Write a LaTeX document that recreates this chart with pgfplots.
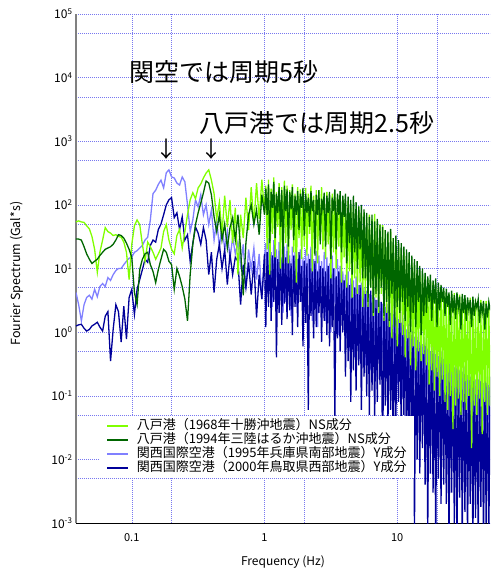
\documentclass[border=0pt]{standalone}
\usepackage{fontspec}
\setmainfont{Noto Sans CJK JP}
\usepackage{pgfplots}
\pgfplotsset{compat=1.18}
\usepackage{pgfplotstable}
\definecolor{lgc}{RGB}{128,255,0}
\definecolor{dgc}{RGB}{0,102,0}
\definecolor{lbc}{RGB}{128,128,255}
\definecolor{dbc}{RGB}{0,0,153}
\definecolor{gridc}{RGB}{120,120,240}
\pgfplotstableread{
f lg dg lb db
0.0380 54 29 4.2 1.25
0.0398 56 29 2.7 1.3
0.0417 54 28 1.5 1.33
0.0437 53 22 2.7 1.15
0.0457 47 17 3.5 1.04
0.0479 42 14 3.8 1.1
0.0501 32 12 3.3 1.25
0.0525 20 13 4.7 1.33
0.0550 8.7 14 3.6 1.43
0.0575 18 16 5.2 1.2
0.0603 28 18 5.8 1.04
0.0631 44 20 5.2 1.78
0.0661 38 21 7.2 2.1
0.0692 36 22 6.5 0.35
0.0724 33 24 8 1.1
0.0759 34 28 9.3 2.7
0.0794 32 34 10 2.1
0.0832 31 33 10 0.7
0.0871 26 30 11.5 2.55
0.0912 18 25 13 0.78
0.0955 6.7 20 14.5 3.5
0.1000 24 15 15 4.7
0.1047 47 4.2 18 1.9
0.1096 58 2.7 19 4.7
0.1148 49 9.6 21 6.7
0.1202 24 14 23 9.6
0.1259 13 17 28 14
0.1318 26 18 31 12.5
0.1380 22 11.5 58 23
0.1445 18 9 150 28
0.1514 14 6 170 26
0.1585 17 9.6 210 41
0.1660 21 14 245 50
0.1738 38 20 185 70
0.1820 49 18 320 100
0.1905 28 13 355 120
0.1995 20 11.5 275 130
0.2089 17 4.7 265 63
0.2188 33 10 220 75
0.2291 41 7.5 205 41
0.2399 21 5.2 275 65
0.2512 38 3.3 230 28
0.2630 70 1.5 100 34
0.2754 120 8 38 13
0.2884 155 24 58 25
0.3020 125 49 120 45
0.3162 185 75 93 36
0.3311 213 107 144 24
0.3467 265 155 70 44
0.3631 316 237 100 28
0.3802 355 220 49 8
0.3981 245 144 83 18
0.4169 150 65 28 4.2
0.4365 60 38 58 14
0.4571 110 70 21 24
0.4786 35 28 49 10
0.5012 140 50 20 20
0.5248 45 21 38 5.6
0.5495 120 44 14 17
0.5754 25 63 31 8
0.6026 90 28 17 15
0.6310 8 70 26 13
0.6607 70 20 11.5 2.7
0.6918 30 3.8 24 11.5
0.7244 130 25 4.7 5
0.7586 40 70 20 12.5
0.7943 190 100 9.6 3.9
0.8318 50 49 21 13
0.8710 220 83 6.7 1.7
0.9120 60 34 17 8
0.9550 250 144 3.3 3.3
1.0000 80 70 15 17
1.023 200 180 25 1.2
1.047 20 70 4 18
1.072 250 210 30 2.5
1.096 8 25 6 22
1.122 180 160 18 1.5
1.148 35 90 2.5 16
1.175 270 230 28 3
1.202 15 30 5 25
1.230 160 150 20 0.4
1.259 45 75 3 14
1.288 220 190 26 2
1.318 10 45 7 20
1.349 190 170 15 1.3
1.380 28 12 2 17
1.413 240 200 22 2.8
1.445 25 80 3 15
1.479 200 175 24 1.6
1.514 12 22 5 19
1.549 170 160 16 2.2
1.585 40 85 1.8 12
1.622 210 190 22 0.9
1.660 18 28 4 16
1.698 150 140 18 2.5
1.738 6 70 2.5 14
1.778 190 165 14 1.2
1.820 30 40 6 18
1.862 175 150 20 3
1.905 14 90 3 11
1.950 160 185 15 0.6
1.995 22 33 2 13
2.042 185 150 20 1.4
2.089 16 75 2.5 12
2.138 150 130 17 0.06
2.188 35 45 4 14
2.239 200 165 22 1.8
2.291 9 80 1.5 10
2.344 140 120 14 0.8
2.399 26 16 3 13
2.455 170 145 19 1.2
2.512 12 70 1.2 9
2.570 160 170 16 2
2.630 30 24 3.5 11
2.692 190 125 13 0.7
2.754 20 85 2 10
2.818 130 155 18 1.5
2.884 14 22 1.5 9
2.951 160 140 15 0.9
3.020 24 75 2.5 11
3.090 120 160 12 0.6
3.162 7 14 1 8
3.236 150 130 16 1.2
3.311 18 80 2 10
3.388 135 175 10 0.045
3.467 10 20 1.3 7.5
3.548 145 150 14 0.8
3.631 22 70 0.9 9
3.715 110 165 11 0.5
3.802 6 18 2.2 8
3.890 125 140 9 1
3.981 15 65 1.5 6.5
4.074 100 150 8 0.2
4.169 5 12 0.8 6
4.266 115 135 9 0.35
4.365 9 25 0.5 5.5
4.467 90 120 7 0.08
4.571 3.5 8 1 6.5
4.677 105 140 6.5 0.25
4.786 7 18 0.4 5
4.898 80 110 7.5 0.12
5.012 4 10 0.7 4.8
5.129 95 95 5.5 0.3
5.248 6 20 0.35 5.5
5.370 70 100 6 0.06
5.495 2.5 7 0.6 4.5
5.623 75 85 5 0.2
5.754 4 7 0.3 4
5.888 65 75 4.5 0.1
6.026 2.5 3 0.5 3.8
6.166 70 65 4 0.05
6.310 5 5 0.25 4.5
6.457 60 70 3.8 0.12
6.607 1.8 2 0.4 3.5
6.761 72 55 3.5 0.04
6.918 3.5 4 0.2 3.2
7.079 55 60 3.2 0.08
7.244 2 2.5 0.45 3.6
7.413 50 48 3 0.15
7.586 4 5 0.3 3
7.762 48 45 2.8 0.006
7.943 1.5 1.8 0.22 3.3
8.128 40 40 2.5 0.07
8.318 2 3 0.2 2.8
8.511 35 38 2.2 0.03
8.710 1.2 1.5 0.3 2.5
8.913 38 42 2 0.06
9.120 0.8 4 0.12 2.6
9.333 30 30 1.9 0.005
9.550 1.6 1.2 0.25 2.2
9.772 26 33 1.7 0.04
10.00 0.6 2.5 0.15 2.4
10.23 24 28 1.6 0.08
10.47 1.4 2 0.22 2
10.72 20 25 1.4 0.025
10.96 0.9 3 0.1 2.1
11.22 18 22 1.3 0.05
11.48 0.4 1.5 0.12 1.6
11.75 16 20 1.1 0.012
12.02 0.8 2.5 0.08 1.4
12.30 14 18 1 0.008
12.59 0.3 1 0.14 1.5
12.88 12 16 0.9 0.02
13.18 0.6 2 0.06 1.2
13.49 11 14 0.85 0.0008
13.80 0.25 1.2 0.1 1.1
14.13 9.5 13 0.75 0.01
14.45 0.5 3 0.07 1
14.79 9 11 0.7 0.006
15.14 0.35 0.9 0.12 0.9
15.49 8 10 0.65 0.015
15.85 0.45 1.8 0.05 0.85
16.22 7.5 8.5 0.6 0.004
16.60 0.3 2 0.05 0.8
16.98 7 7.5 0.55 0.0007
17.38 0.15 3 0.08 0.75
17.78 6.5 8 0.5 0.006
18.20 0.25 1.5 0.03 0.7
18.62 6 6.5 0.48 0.003
19.05 0.12 2.8 0.06 0.65
19.50 5.5 7 0.45 0.0005
19.95 0.2 1.2 0.04 0.6
20.42 5 6 0.42 0.005
20.89 0.1 2.2 0.07 0.55
21.38 5.2 5.5 0.4 0.002
21.88 0.18 3 0.035 0.5
22.39 4.5 5 0.38 0.004
22.91 0.08 1.8 0.03 0.45
23.44 4.2 4.8 0.35 0.002
23.99 0.06 2.5 0.045 0.42
24.55 4 4.2 0.32 0.0005
25.12 0.1 1.3 0.02 0.4
25.70 3.8 4.5 0.3 0.003
26.30 0.03 2 0.04 0.38
26.92 4.1 3.8 0.28 0.001
27.54 0.07 1.6 0.025 0.36
28.18 3.6 4.2 0.27 0.0004
28.84 0.09 2.4 0.05 0.34
29.51 3.9 3.6 0.25 0.0025
30.20 0.05 1.1 0.018 0.32
30.90 3.5 4 0.24 0.0006
31.62 0.08 2 0.035 0.3
32.36 3.4 3.8 0.22 0.0015
33.11 0.06 1.5 0.02 0.3
33.88 3.2 3.5 0.21 0.0005
34.67 0.1 2.2 0.03 0.28
35.48 3.5 3.2 0.2 0.002
36.31 0.015 1.2 0.012 0.26
37.15 3.1 3.6 0.19 0.0004
38.02 0.07 1.8 0.025 0.25
38.90 3.3 3 0.18 0.0012
39.81 0.05 2.4 0.015 0.24
40.74 3 3.3 0.18 0.0005
41.69 0.09 1.4 0.028 0.22
42.66 3.2 2.9 0.17 0.0018
43.65 0.025 2 0.01 0.22
44.67 2.9 3.1 0.16 0.0004
45.71 0.08 1.1 0.022 0.21
46.77 3.1 2.8 0.16 0.001
47.86 0.05 1.7 0.014 0.2
48.98 2.8 3 0.15 0.0005
50.12 0.07 2.2 0.02 0.2
}\spec
\begin{document}
\begin{tikzpicture}
\begin{axis}[
  scale only axis, width=414pt, height=509pt,
  xmode=log, ymode=log,
  xmin=0.038, xmax=50, ymin=1e-3, ymax=1e5,
  axis x line*=bottom, axis y line*=left,
  x axis line style={black, line width=1pt},
  y axis line style={gray, line width=1.6pt},
  xtick={0.1,1,10}, xticklabels={0.1,1,10},
  minor xtick={0.02,0.2,2,20},
  ytick={1e-3,1e-2,1e-1,1,10,100,1000,1e4,1e5},
  yticklabels={10\textsuperscript{-3},10\textsuperscript{-2},10\textsuperscript{-1},10\textsuperscript{0},10\textsuperscript{1},10\textsuperscript{2},10\textsuperscript{3},10\textsuperscript{4},10\textsuperscript{5}},
  minor ytick={5e-3,5e-2,0.5,5,50,500,5000,5e4},
  grid=both,
  major grid style={color=gridc, line width=0.5pt, dash pattern=on 0.7pt off 1.3pt},
  minor grid style={color=gridc, line width=0.5pt, dash pattern=on 0.7pt off 1.3pt},
  major tick length=0pt, minor tick length=0pt,
  xticklabel style={font=\fontsize{11}{12}\selectfont, anchor=center, yshift=-15pt},
  yticklabel style={font=\fontsize{12}{13}\selectfont},
  xlabel={Frequency (Hz)},
  ylabel={Fourier Spectrum (Gal*s)},
  xlabel style={at={(rel axis cs:0.5,0)}, anchor=center, yshift=-39pt, font=\fontsize{12}{13}\selectfont},
  ylabel style={at={(rel axis cs:-0.1425,0.49)}, anchor=center, font=\fontsize{12.5}{13}\selectfont},
  legend style={at={(rel axis cs:0.058,0.088)}, anchor=south west, draw=none, fill=white,
    font=\fontsize{13}{14}\selectfont, row sep=0pt, inner xsep=6pt, inner ysep=3pt,
    nodes={inner sep=1pt, text height=9.5pt, text depth=2.5pt},
    /tikz/every odd column/.append style={column sep=7pt}},
  legend cell align=left,
  legend image code/.code={\draw[#1] (0pt,0pt) -- (21pt,0pt);},
  clip mode=individual,
]
\addlegendimage{lgc, line width=1.6pt}
\addlegendentry{八戸港（1968年十勝沖地震）NS成分}
\addlegendimage{dgc, line width=1.6pt}
\addlegendentry{八戸港（1994年三陸はるか沖地震）NS成分}
\addlegendimage{lbc, line width=1.6pt}
\addlegendentry{関西国際空港（1995年兵庫県南部地震）Y成分}
\addlegendimage{dbc, line width=1.6pt}
\addlegendentry{関西国際空港（2000年鳥取県西部地震）Y成分}
\addplot[lbc, line width=1.3pt, forget plot] table[x=f, y=lb] {\spec};
\addplot[dbc, line width=1.3pt, forget plot] table[x=f, y=db] {\spec};
\addplot[lgc, line width=1.3pt, forget plot] table[x=f, y=lg] {\spec};
\addplot[dgc, line width=1.3pt, forget plot] table[x=f, y=dg] {\spec};
\node[anchor=west, inner sep=0pt, font=\fontsize{25}{28}\selectfont] at (axis cs:0.0966,12300) {関空では周期5秒};
\node[anchor=west, inner sep=0pt, font=\fontsize{25}{28}\selectfont] at (axis cs:0.324,1950) {八戸港では周期2.5秒};
\node[inner sep=0pt, font=\fontsize{22}{24}\selectfont] at (axis cs:0.183,760) {↓};
\node[inner sep=0pt, font=\fontsize{22}{24}\selectfont] at (axis cs:0.40,760) {↓};
\coordinate (sw) at (rel axis cs:0,0);
\end{axis}
\pgfresetboundingbox
\path (sw) ++(-76pt,-47pt) rectangle ++(490pt,570pt);
\end{tikzpicture}
\end{document}
